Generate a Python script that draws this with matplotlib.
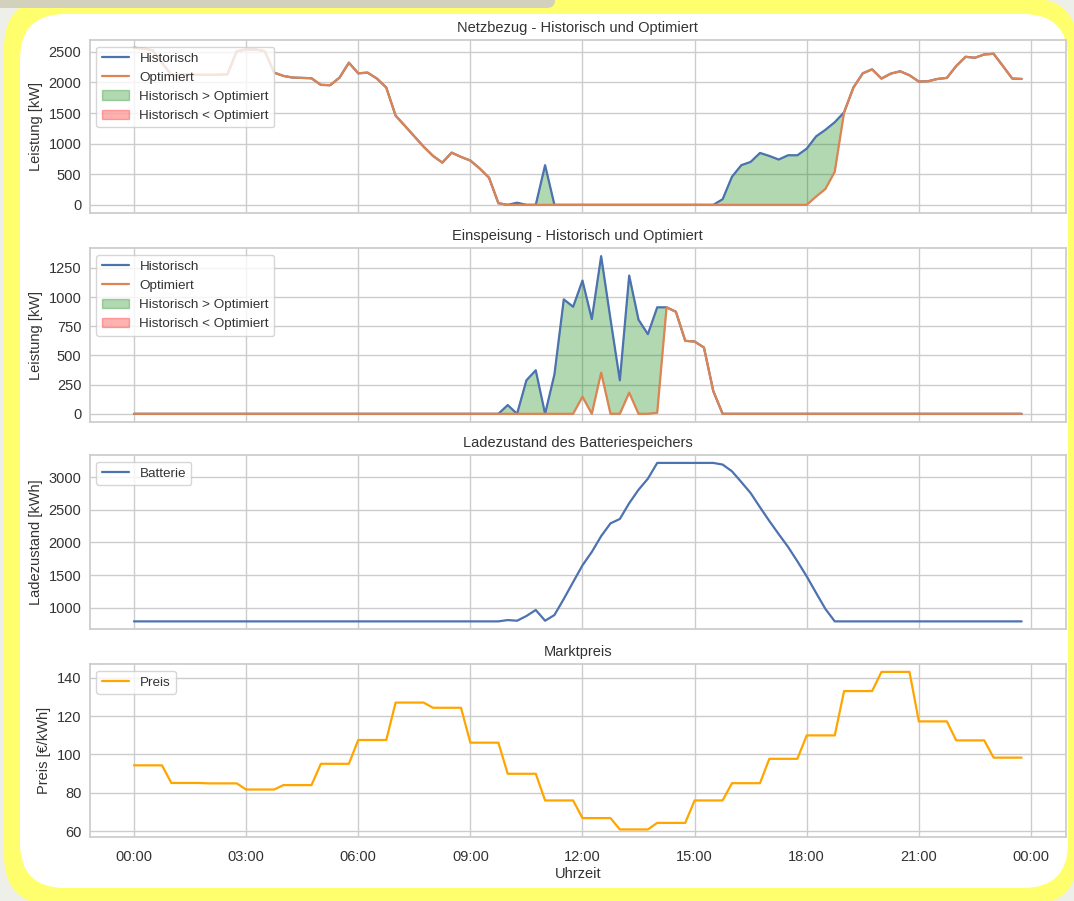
import numpy as np
import pandas as pd
import matplotlib
matplotlib.use("Agg")
import matplotlib.pyplot as plt
import matplotlib.dates as mdates
from matplotlib.patches import FancyBboxPatch
from matplotlib.ticker import MultipleLocator
import seaborn as sns

# Zeitachse: 96 Viertelstunden eines Tages
zeit = pd.date_range("2024-01-01 00:00", periods=96, freq="15min")

# Netzbezug [kW]
netz_opt = [2565, 2555, 2525, 2320, 2125, 2125, 2125, 2125, 2125, 2125,
            2133, 2511, 2538, 2538, 2511, 2160, 2106, 2079, 2074, 2068,
            1960, 1955, 2079, 2322, 2149, 2160, 2063, 1917, 1458, 1290,
            1120, 950, 800, 690, 853, 783, 724, 594, 443, 27,
            0, 0, 0, 0, 0, 0, 0, 0, 0, 0,
            0, 0, 0, 0, 0, 0, 0, 0, 0, 0,
            0, 0, 0, 0, 0, 0, 0, 0, 0, 0,
            0, 0, 0, 135, 259, 540, 1512, 1917, 2149, 2214,
            2063, 2144, 2182, 2117, 2014, 2020, 2057, 2074, 2268, 2419,
            2403, 2457, 2468, 2268, 2063, 2057]
netz_hist = [2565, 2555, 2525, 2320, 2125, 2125, 2125, 2125, 2125, 2125,
             2133, 2511, 2538, 2538, 2511, 2160, 2106, 2079, 2074, 2068,
             1960, 1955, 2079, 2322, 2149, 2160, 2063, 1917, 1458, 1290,
             1120, 950, 800, 690, 853, 783, 724, 594, 443, 27,
             0, 35, 0, 0, 648, 0, 0, 0, 0, 0,
             0, 0, 0, 0, 0, 0, 0, 0, 0, 0,
             0, 0, 0, 92, 459, 648, 702, 848, 799, 740,
             810, 810, 918, 1118, 1226, 1350, 1512, 1917, 2149, 2214,
             2063, 2144, 2182, 2117, 2014, 2020, 2057, 2074, 2268, 2419,
             2403, 2457, 2468, 2268, 2063, 2057]

# Einspeisung [kW]
einsp_opt = [0] * 48 + [146, 0, 353, 0, 0, 181, 0, 0, 9, 912,
                        874, 625, 619, 568, 195] + [0] * 33
einsp_hist = [0] * 40 + [75, 0, 287, 373, 0, 338, 980, 917, 1141, 811,
                         1350, 810, 287, 1184, 806, 682, 912, 912,
                         874, 625, 619, 568, 195] + [0] * 33

# Ladezustand Batterie [kWh]
batterie = [795] * 40 + [815, 805, 877, 969, 805, 892, 1138, 1395, 1651, 1856,
                         2097, 2292, 2359, 2600, 2805, 2974, 3215, 3215, 3215, 3215,
                         3215, 3215, 3215, 3190, 3087, 2923, 2754, 2538, 2328, 2128,
                         1933, 1713, 1482, 1231, 985] + [795] * 21

# Marktpreis je Stunde [€/kWh], gilt für alle 4 Viertelstunden
preis_stunde = [94.3, 85.1, 84.9, 81.7, 84.0, 95.1, 107.5, 127.0, 124.3, 106.1,
                89.9, 76.0, 66.8, 60.9, 64.3, 76.0, 85.0, 97.7, 109.9, 133.0,
                143.0, 117.2, 107.3, 98.3]
preis = np.repeat(preis_stunde, 4)

sns.set_theme(style="whitegrid")
plt.rcParams["font.family"] = ["Liberation Sans", "DejaVu Sans"]
plt.rcParams["text.color"] = "#333333"
plt.rcParams["axes.labelcolor"] = "#333333"
plt.rcParams["xtick.color"] = "#333333"
plt.rcParams["ytick.color"] = "#333333"

W, H = 1074, 901
fig = plt.figure(figsize=(W / 100, H / 100), dpi=100)
fig.patch.set_facecolor("#efefe9")

# Rahmen (gelb, abgerundet) im Hintergrund
bg = fig.add_axes([0, 0, 1, 1], zorder=-10)
bg.set_xlim(0, W)
bg.set_ylim(H, 0)
bg.axis("off")
bg.add_patch(FancyBboxPatch((4, -2), 1074, 907, boxstyle="round,pad=0,rounding_size=50",
                            facecolor="#ffff6e", edgecolor="none"))
bg.add_patch(FancyBboxPatch((-40, -40), 595, 48, boxstyle="round,pad=0,rounding_size=8",
                            facecolor="#d3d0bc", edgecolor="none"))
bg.add_patch(FancyBboxPatch((20, 14), 1048, 874, boxstyle="round,pad=0,rounding_size=45",
                            facecolor="white", edgecolor="none"))


def add_panel(top, bottom, sharex=None):
    left, right = 89.6, 1066
    return fig.add_axes([left / W, 1 - bottom / H, (right - left) / W, (bottom - top) / H],
                        sharex=sharex)


ax1 = add_panel(40, 212.7)
ax2 = add_panel(248.3, 421.7, sharex=ax1)
ax3 = add_panel(455, 629.3, sharex=ax1)
ax4 = add_panel(664, 837.3, sharex=ax1)

fs = 10.5
fs_leg = 9.7

for ax, hist, opt, titel in [(ax1, netz_hist, netz_opt, "Netzbezug - Historisch und Optimiert"),
                             (ax2, einsp_hist, einsp_opt, "Einspeisung - Historisch und Optimiert")]:
    hist = np.array(hist)
    opt = np.array(opt)
    ax.plot(zeit, hist, label="Historisch", color="#4c72b0", lw=1.6)
    ax.plot(zeit, opt, label="Optimiert", color="#dd8452", lw=1.6)
    ax.fill_between(zeit, hist, opt, where=hist > opt, color="green", alpha=0.3,
                    interpolate=True, label="Historisch > Optimiert")
    ax.fill_between(zeit, hist, opt, where=hist < opt, color="red", alpha=0.3,
                    interpolate=True, label="Historisch < Optimiert")
    ax.set_title(titel, fontsize=fs)
    ax.set_ylabel("Leistung [kW]", fontsize=fs)
    ax.legend(loc="upper left", fontsize=fs_leg)

ax1.yaxis.set_major_locator(MultipleLocator(500))
ax2.yaxis.set_major_locator(MultipleLocator(250))

ax3.plot(zeit, batterie, label="Batterie", color="#4c72b0", lw=1.6)
ax3.set_title("Ladezustand des Batteriespeichers", fontsize=fs)
ax3.set_ylabel("Ladezustand [kWh]", fontsize=fs)
ax3.yaxis.set_major_locator(MultipleLocator(500))
ax3.legend(loc="upper left", fontsize=fs_leg)

ax4.plot(zeit, preis, label="Preis", color="orange", lw=1.6)
ax4.set_title("Marktpreis", fontsize=fs)
ax4.set_ylabel("Preis [€/kWh]", fontsize=fs)
ax4.set_xlabel("Uhrzeit", fontsize=fs, labelpad=2)
ax4.yaxis.set_major_locator(MultipleLocator(20))
ax4.legend(loc="upper left", fontsize=fs_leg)

ax4.xaxis.set_major_locator(mdates.HourLocator(byhour=range(0, 24, 3)))
ax4.xaxis.set_major_formatter(mdates.DateFormatter("%H:%M"))

for ax in (ax1, ax2, ax3, ax4):
    ax.tick_params(axis="y", labelsize=fs, length=0, pad=6)
    ax.tick_params(axis="x", labelsize=fs, length=0, pad=9)
    if ax is not ax4:
        ax.tick_params(labelbottom=False)

fig.savefig("out.png", dpi=100, facecolor=fig.get_facecolor())
